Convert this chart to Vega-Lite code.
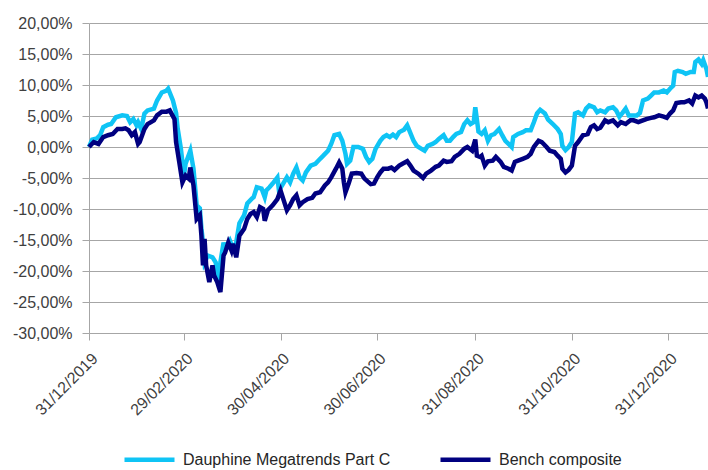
{
  "$schema": "https://vega.github.io/schema/vega-lite/v6.json",
  "width": 619,
  "height": 310,
  "autosize": {"type": "none"},
  "padding": {"left": 89, "top": 23, "right": 0, "bottom": 137},
  "background": "white",
  "config": {
    "view": {"stroke": null},
    "font": "Liberation Sans",
    "axis": {"labelFont": "Liberation Sans", "labelFontSize": 16, "labelColor": "#404040", "domainColor": "#a6a6a6", "tickColor": "#a6a6a6", "gridColor": "#a6a6a6", "domainWidth": 1, "tickWidth": 1, "gridWidth": 1},
    "legend": {"labelFont": "Liberation Sans", "labelFontSize": 16, "labelColor": "#262626"}
  },
  "datasets": {
    "fund": [
      {"date":"2019-12-31","value":0.0},{"date":"2020-01-02","value":1.2},{"date":"2020-01-05","value":1.4},{"date":"2020-01-07","value":1.9},{"date":"2020-01-09","value":3.2},{"date":"2020-01-12","value":3.6},{"date":"2020-01-14","value":3.7},{"date":"2020-01-17","value":4.8},{"date":"2020-01-21","value":5.1},{"date":"2020-01-24","value":5.0},{"date":"2020-01-26","value":4.0},{"date":"2020-01-28","value":4.5},{"date":"2020-01-30","value":3.5},{"date":"2020-01-31","value":4.0},{"date":"2020-02-02","value":2.9},{"date":"2020-02-04","value":5.4},{"date":"2020-02-06","value":5.9},{"date":"2020-02-10","value":6.2},{"date":"2020-02-12","value":7.5},{"date":"2020-02-15","value":8.8},{"date":"2020-02-18","value":9.1},{"date":"2020-02-19","value":9.4},{"date":"2020-02-22","value":7.5},{"date":"2020-02-24","value":5.5},{"date":"2020-02-25","value":3.0},{"date":"2020-02-27","value":-0.2},{"date":"2020-02-29","value":-4.6},{"date":"2020-03-01","value":-2.7},{"date":"2020-03-04","value":-0.6},{"date":"2020-03-06","value":-3.5},{"date":"2020-03-08","value":-9.4},{"date":"2020-03-10","value":-9.9},{"date":"2020-03-11","value":-13.1},{"date":"2020-03-12","value":-15.4},{"date":"2020-03-13","value":-18.6},{"date":"2020-03-15","value":-17.5},{"date":"2020-03-18","value":-17.8},{"date":"2020-03-20","value":-18.6},{"date":"2020-03-22","value":-21.8},{"date":"2020-03-23","value":-18.6},{"date":"2020-03-25","value":-15.4},{"date":"2020-03-26","value":-16.4},{"date":"2020-03-29","value":-15.1},{"date":"2020-03-31","value":-16.4},{"date":"2020-04-02","value":-15.4},{"date":"2020-04-04","value":-12.3},{"date":"2020-04-07","value":-11.0},{"date":"2020-04-09","value":-9.1},{"date":"2020-04-12","value":-8.3},{"date":"2020-04-13","value":-8.1},{"date":"2020-04-15","value":-6.5},{"date":"2020-04-18","value":-6.7},{"date":"2020-04-20","value":-8.1},{"date":"2020-04-21","value":-7.0},{"date":"2020-04-23","value":-6.5},{"date":"2020-04-25","value":-5.9},{"date":"2020-04-28","value":-4.9},{"date":"2020-04-29","value":-7.0},{"date":"2020-05-01","value":-6.2},{"date":"2020-05-04","value":-4.9},{"date":"2020-05-06","value":-5.7},{"date":"2020-05-08","value":-4.3},{"date":"2020-05-10","value":-3.3},{"date":"2020-05-12","value":-4.9},{"date":"2020-05-14","value":-5.4},{"date":"2020-05-16","value":-4.1},{"date":"2020-05-19","value":-3.0},{"date":"2020-05-22","value":-2.7},{"date":"2020-05-25","value":-1.9},{"date":"2020-05-27","value":-1.4},{"date":"2020-05-30","value":-0.6},{"date":"2020-06-01","value":0.5},{"date":"2020-06-03","value":1.9},{"date":"2020-06-06","value":2.1},{"date":"2020-06-08","value":1.0},{"date":"2020-06-10","value":-1.1},{"date":"2020-06-11","value":-2.7},{"date":"2020-06-13","value":-2.2},{"date":"2020-06-15","value":0.0},{"date":"2020-06-18","value":0.0},{"date":"2020-06-21","value":-0.3},{"date":"2020-06-23","value":-1.6},{"date":"2020-06-25","value":-2.4},{"date":"2020-06-27","value":-1.9},{"date":"2020-06-29","value":-0.3},{"date":"2020-07-02","value":1.0},{"date":"2020-07-04","value":1.6},{"date":"2020-07-06","value":1.9},{"date":"2020-07-08","value":1.6},{"date":"2020-07-10","value":2.0},{"date":"2020-07-12","value":1.6},{"date":"2020-07-14","value":2.4},{"date":"2020-07-17","value":2.8},{"date":"2020-07-19","value":3.5},{"date":"2020-07-20","value":2.9},{"date":"2020-07-23","value":1.0},{"date":"2020-07-25","value":0.2},{"date":"2020-07-28","value":-0.3},{"date":"2020-07-30","value":-0.6},{"date":"2020-08-01","value":0.2},{"date":"2020-08-04","value":0.5},{"date":"2020-08-06","value":0.8},{"date":"2020-08-08","value":1.3},{"date":"2020-08-11","value":1.9},{"date":"2020-08-13","value":1.0},{"date":"2020-08-15","value":1.0},{"date":"2020-08-17","value":1.6},{"date":"2020-08-19","value":2.1},{"date":"2020-08-22","value":2.4},{"date":"2020-08-24","value":3.7},{"date":"2020-08-26","value":4.3},{"date":"2020-08-28","value":3.7},{"date":"2020-08-30","value":4.0},{"date":"2020-08-31","value":6.4},{"date":"2020-09-02","value":2.5},{"date":"2020-09-04","value":2.1},{"date":"2020-09-06","value":2.7},{"date":"2020-09-08","value":1.0},{"date":"2020-09-10","value":1.9},{"date":"2020-09-12","value":2.1},{"date":"2020-09-15","value":2.9},{"date":"2020-09-17","value":1.9},{"date":"2020-09-19","value":1.0},{"date":"2020-09-21","value":0.5},{"date":"2020-09-23","value":0.0},{"date":"2020-09-24","value":1.6},{"date":"2020-09-27","value":2.1},{"date":"2020-09-30","value":2.4},{"date":"2020-10-02","value":2.7},{"date":"2020-10-05","value":2.7},{"date":"2020-10-07","value":4.0},{"date":"2020-10-09","value":5.4},{"date":"2020-10-11","value":6.0},{"date":"2020-10-14","value":5.4},{"date":"2020-10-16","value":4.4},{"date":"2020-10-19","value":3.7},{"date":"2020-10-22","value":2.9},{"date":"2020-10-24","value":2.1},{"date":"2020-10-25","value":0.2},{"date":"2020-10-27","value":-0.5},{"date":"2020-10-29","value":0.0},{"date":"2020-10-31","value":0.8},{"date":"2020-11-02","value":5.4},{"date":"2020-11-04","value":5.6},{"date":"2020-11-07","value":5.1},{"date":"2020-11-09","value":6.2},{"date":"2020-11-11","value":6.7},{"date":"2020-11-14","value":6.4},{"date":"2020-11-16","value":5.6},{"date":"2020-11-18","value":5.9},{"date":"2020-11-21","value":5.6},{"date":"2020-11-23","value":6.2},{"date":"2020-11-26","value":6.4},{"date":"2020-11-28","value":5.9},{"date":"2020-11-30","value":4.9},{"date":"2020-12-02","value":5.5},{"date":"2020-12-04","value":6.2},{"date":"2020-12-06","value":5.1},{"date":"2020-12-08","value":5.1},{"date":"2020-12-11","value":5.1},{"date":"2020-12-13","value":5.5},{"date":"2020-12-15","value":7.5},{"date":"2020-12-18","value":7.8},{"date":"2020-12-20","value":8.3},{"date":"2020-12-22","value":8.8},{"date":"2020-12-25","value":8.8},{"date":"2020-12-28","value":9.1},{"date":"2020-12-30","value":8.8},{"date":"2021-01-01","value":9.4},{"date":"2021-01-03","value":9.9},{"date":"2021-01-04","value":12.1},{"date":"2021-01-06","value":12.3},{"date":"2021-01-09","value":12.1},{"date":"2021-01-11","value":11.8},{"date":"2021-01-14","value":12.1},{"date":"2021-01-16","value":12.1},{"date":"2021-01-17","value":13.7},{"date":"2021-01-19","value":14.1},{"date":"2021-01-21","value":13.4},{"date":"2021-01-22","value":14.0},{"date":"2021-01-24","value":12.6},{"date":"2021-01-25","value":11.3}
    ],
    "bench": [
      {"date":"2019-12-31","value":0.0},{"date":"2020-01-03","value":0.8},{"date":"2020-01-06","value":0.5},{"date":"2020-01-09","value":1.6},{"date":"2020-01-12","value":1.9},{"date":"2020-01-15","value":2.1},{"date":"2020-01-18","value":2.9},{"date":"2020-01-21","value":2.9},{"date":"2020-01-23","value":3.0},{"date":"2020-01-25","value":2.7},{"date":"2020-01-27","value":1.9},{"date":"2020-01-29","value":2.4},{"date":"2020-01-31","value":0.5},{"date":"2020-02-01","value":0.8},{"date":"2020-02-04","value":2.9},{"date":"2020-02-06","value":3.7},{"date":"2020-02-10","value":4.3},{"date":"2020-02-12","value":5.1},{"date":"2020-02-15","value":5.7},{"date":"2020-02-18","value":5.7},{"date":"2020-02-20","value":5.9},{"date":"2020-02-23","value":4.5},{"date":"2020-02-24","value":0.8},{"date":"2020-02-26","value":-2.4},{"date":"2020-02-28","value":-5.7},{"date":"2020-03-01","value":-4.6},{"date":"2020-03-03","value":-5.1},{"date":"2020-03-04","value":-3.3},{"date":"2020-03-06","value":-6.2},{"date":"2020-03-08","value":-11.6},{"date":"2020-03-10","value":-11.0},{"date":"2020-03-11","value":-14.3},{"date":"2020-03-12","value":-19.1},{"date":"2020-03-13","value":-14.8},{"date":"2020-03-14","value":-19.1},{"date":"2020-03-16","value":-21.8},{"date":"2020-03-18","value":-19.1},{"date":"2020-03-19","value":-20.7},{"date":"2020-03-21","value":-21.8},{"date":"2020-03-23","value":-23.4},{"date":"2020-03-25","value":-17.5},{"date":"2020-03-26","value":-17.0},{"date":"2020-03-28","value":-15.4},{"date":"2020-03-30","value":-16.7},{"date":"2020-03-31","value":-15.6},{"date":"2020-04-02","value":-17.8},{"date":"2020-04-04","value":-14.3},{"date":"2020-04-07","value":-13.2},{"date":"2020-04-09","value":-11.6},{"date":"2020-04-11","value":-10.8},{"date":"2020-04-13","value":-10.5},{"date":"2020-04-15","value":-11.3},{"date":"2020-04-17","value":-9.7},{"date":"2020-04-19","value":-10.0},{"date":"2020-04-20","value":-11.9},{"date":"2020-04-22","value":-10.2},{"date":"2020-04-25","value":-9.4},{"date":"2020-04-28","value":-8.4},{"date":"2020-04-30","value":-7.0},{"date":"2020-05-02","value":-8.6},{"date":"2020-05-04","value":-10.2},{"date":"2020-05-06","value":-9.4},{"date":"2020-05-08","value":-8.4},{"date":"2020-05-10","value":-7.8},{"date":"2020-05-12","value":-9.4},{"date":"2020-05-14","value":-8.9},{"date":"2020-05-17","value":-8.4},{"date":"2020-05-20","value":-8.2},{"date":"2020-05-22","value":-7.5},{"date":"2020-05-25","value":-7.3},{"date":"2020-05-28","value":-6.2},{"date":"2020-05-30","value":-5.7},{"date":"2020-06-01","value":-4.9},{"date":"2020-06-04","value":-3.5},{"date":"2020-06-06","value":-2.5},{"date":"2020-06-08","value":-3.5},{"date":"2020-06-09","value":-5.7},{"date":"2020-06-10","value":-7.3},{"date":"2020-06-12","value":-5.9},{"date":"2020-06-14","value":-4.3},{"date":"2020-06-17","value":-4.2},{"date":"2020-06-20","value":-4.3},{"date":"2020-06-22","value":-5.1},{"date":"2020-06-26","value":-6.0},{"date":"2020-06-28","value":-5.9},{"date":"2020-06-30","value":-4.9},{"date":"2020-07-02","value":-4.1},{"date":"2020-07-04","value":-3.5},{"date":"2020-07-07","value":-3.5},{"date":"2020-07-09","value":-3.3},{"date":"2020-07-11","value":-3.7},{"date":"2020-07-14","value":-3.0},{"date":"2020-07-16","value":-2.7},{"date":"2020-07-19","value":-2.3},{"date":"2020-07-21","value":-3.0},{"date":"2020-07-23","value":-3.8},{"date":"2020-07-26","value":-4.3},{"date":"2020-07-29","value":-5.0},{"date":"2020-07-31","value":-4.3},{"date":"2020-08-03","value":-3.8},{"date":"2020-08-06","value":-3.2},{"date":"2020-08-08","value":-3.0},{"date":"2020-08-11","value":-2.2},{"date":"2020-08-13","value":-2.4},{"date":"2020-08-16","value":-2.3},{"date":"2020-08-18","value":-1.6},{"date":"2020-08-21","value":-1.1},{"date":"2020-08-24","value":-0.3},{"date":"2020-08-26","value":0.0},{"date":"2020-08-29","value":-0.6},{"date":"2020-08-31","value":1.2},{"date":"2020-09-01","value":-1.4},{"date":"2020-09-03","value":-1.6},{"date":"2020-09-04","value":-1.4},{"date":"2020-09-06","value":-3.0},{"date":"2020-09-08","value":-2.3},{"date":"2020-09-11","value":-2.2},{"date":"2020-09-13","value":-1.6},{"date":"2020-09-16","value":-2.4},{"date":"2020-09-18","value":-3.2},{"date":"2020-09-21","value":-3.5},{"date":"2020-09-23","value":-3.8},{"date":"2020-09-25","value":-2.4},{"date":"2020-09-27","value":-2.2},{"date":"2020-09-30","value":-1.9},{"date":"2020-10-03","value":-1.6},{"date":"2020-10-05","value":-1.1},{"date":"2020-10-07","value":0.0},{"date":"2020-10-10","value":1.0},{"date":"2020-10-12","value":0.8},{"date":"2020-10-15","value":0.0},{"date":"2020-10-17","value":-0.6},{"date":"2020-10-20","value":-0.8},{"date":"2020-10-22","value":-1.4},{"date":"2020-10-24","value":-1.9},{"date":"2020-10-25","value":-3.5},{"date":"2020-10-27","value":-4.1},{"date":"2020-10-29","value":-3.7},{"date":"2020-10-31","value":-3.0},{"date":"2020-11-02","value":0.2},{"date":"2020-11-04","value":0.8},{"date":"2020-11-07","value":1.9},{"date":"2020-11-10","value":2.1},{"date":"2020-11-12","value":3.2},{"date":"2020-11-14","value":3.5},{"date":"2020-11-16","value":2.9},{"date":"2020-11-18","value":3.1},{"date":"2020-11-21","value":4.3},{"date":"2020-11-23","value":4.0},{"date":"2020-11-26","value":4.3},{"date":"2020-11-29","value":3.5},{"date":"2020-12-01","value":4.0},{"date":"2020-12-04","value":3.7},{"date":"2020-12-07","value":4.3},{"date":"2020-12-09","value":4.3},{"date":"2020-12-12","value":4.0},{"date":"2020-12-14","value":4.2},{"date":"2020-12-17","value":4.5},{"date":"2020-12-20","value":4.7},{"date":"2020-12-22","value":4.8},{"date":"2020-12-25","value":5.1},{"date":"2020-12-28","value":4.9},{"date":"2020-12-30","value":4.7},{"date":"2021-01-01","value":5.4},{"date":"2021-01-03","value":5.9},{"date":"2021-01-05","value":7.1},{"date":"2021-01-08","value":7.2},{"date":"2021-01-10","value":7.2},{"date":"2021-01-13","value":7.5},{"date":"2021-01-15","value":7.0},{"date":"2021-01-17","value":8.3},{"date":"2021-01-19","value":8.0},{"date":"2021-01-21","value":8.3},{"date":"2021-01-23","value":7.8},{"date":"2021-01-24","value":7.2},{"date":"2021-01-25","value":6.2}
    ]
  },
  "encoding": {
    "x": {
      "field": "date", "type": "temporal",
      "scale": {"type": "utc", "domain": [{"year": 2019, "month": 12, "date": 31, "utc": true}, {"year": 2021, "month": 1, "date": 25, "utc": true}], "nice": false},
      "axis": {
        "title": null, "grid": false, "format": "%d/%m/%Y", "labelAngle": -45, "tickSize": 7, "labelPadding": 10,
        "values": [
          {"year": 2019, "month": 12, "date": 31, "utc": true},
          {"year": 2020, "month": 2, "date": 29, "utc": true},
          {"year": 2020, "month": 4, "date": 30, "utc": true},
          {"year": 2020, "month": 6, "date": 30, "utc": true},
          {"year": 2020, "month": 8, "date": 31, "utc": true},
          {"year": 2020, "month": 10, "date": 31, "utc": true},
          {"year": 2020, "month": 12, "date": 31, "utc": true}
        ]
      }
    },
    "y": {
      "field": "value", "type": "quantitative",
      "scale": {"domain": [-30, 20], "nice": false, "zero": false},
      "axis": {
        "title": null, "grid": true, "tickSize": 7, "labelPadding": 10,
        "values": [-30, -25, -20, -15, -10, -5, 0, 5, 10, 15, 20],
        "labelExpr": "replace(replace(format(datum.value, '.2f'), '.', ','), '\u2212', '-') + '%'"
      }
    },
    "color": {
      "datum": "Dauphine Megatrends Part C",
      "scale": {"domain": ["Dauphine Megatrends Part C", "Bench composite"], "range": ["#0fc4f5", "#000080"]},
      "legend": {
        "title": null, "orient": "none", "legendX": 33, "legendY": 409, "direction": "horizontal", "symbolType": "stroke",
        "symbolSize": 2500, "symbolStrokeWidth": 4.5, "columnPadding": 40, "labelOffset": 6, "labelLimit": 0
      }
    }
  },
  "layer": [
    {"data": {"name": "fund"}, "mark": {"type": "line", "strokeWidth": 4.5}},
    {"data": {"name": "bench"}, "mark": {"type": "line", "strokeWidth": 4.5}, "encoding": {"color": {"datum": "Bench composite"}}}
  ]
}
